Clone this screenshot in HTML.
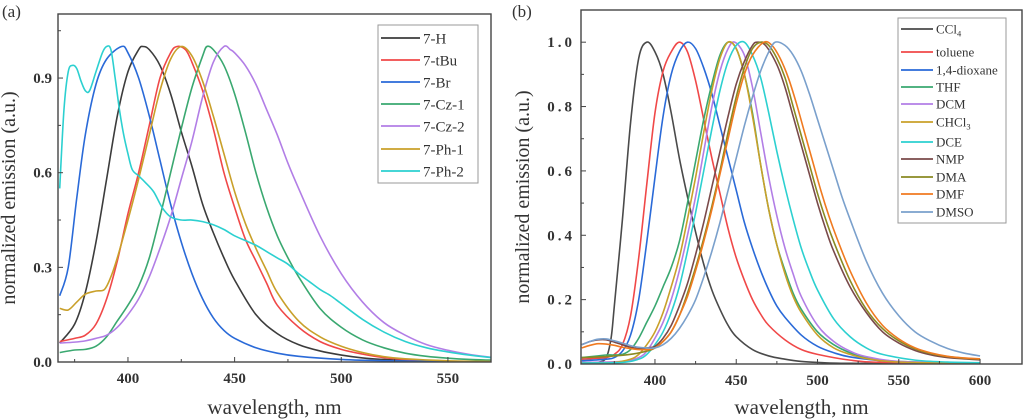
<!DOCTYPE html>
<html><head><meta charset="utf-8"><style>
html,body{margin:0;padding:0;background:#fff;}
svg{display:block;font-family:"Liberation Serif",serif;}
</style></head><body>
<svg id="chart" width="1024" height="419" viewBox="0 0 1024 419" xmlns="http://www.w3.org/2000/svg"></svg>
<script>
// ---------- Panel (a) data ----------
const aNames = ["7-H","7-tBu","7-Br","7-Cz-1","7-Cz-2","7-Ph-1","7-Ph-2"];
const aColors = ["#3c3c3c","#f04848","#2a6ad8","#3aa870","#b27ee6","#c9a02a","#2cd0d0"];
const aH_x = [368,375,380,385,390,395,400,405,407,410,415,420,425,430,435,440,445,450,460,470,480,490,500,510,520,530,550,570];
const aH_y = [.06,.12,.22,.38,.58,.78,.92,.99,1,.99,.94,.85,.73,.62,.5,.41,.33,.26,.15,.09,.055,.035,.022,.013,.008,.005,.002,.001];
const aTBu_x = [368,375,380,385,390,395,400,405,410,415,420,423,427,430,435,440,445,450,455,460,465,470,480,490,500,510,520,530,550,570];
const aTBu_y = [.065,.075,.085,.12,.2,.32,.47,.6,.75,.9,.98,1,.99,.95,.86,.74,.6,.49,.39,.32,.25,.18,.11,.065,.04,.025,.014,.008,.003,.001];
const aBr_x = [368,372,376,380,385,390,397,400,405,410,415,420,425,430,435,440,445,450,460,470,480,500,520,570];
const aBr_y = [.21,.3,.52,.72,.88,.96,1,.98,.9,.78,.64,.5,.38,.28,.2,.14,.1,.075,.045,.028,.018,.008,.004,.001];
const aCz1_x = [368,375,380,385,390,395,400,405,410,415,420,425,430,435,437,440,445,450,455,460,465,470,475,480,490,500,510,520,530,540,550,560,570];
const aCz1_y = [.03,.038,.04,.05,.08,.13,.18,.24,.33,.46,.6,.74,.87,.97,1,.99,.94,.85,.73,.6,.49,.4,.33,.27,.17,.11,.07,.045,.028,.018,.012,.008,.006];
const aCz2_x = [368,375,380,385,390,395,400,405,410,415,420,425,430,435,440,445,448,450,455,460,465,470,475,480,490,500,510,520,530,540,550,560,570];
const aCz2_y = [.06,.063,.067,.075,.085,.11,.15,.2,.27,.36,.46,.58,.7,.84,.95,1,.99,.98,.94,.88,.8,.72,.63,.55,.4,.28,.19,.125,.085,.055,.037,.024,.015];
const aPh1_x = [368,372,376,380,385,389,392,395,400,405,410,415,420,425,430,435,440,445,450,455,460,465,470,480,490,500,510,520,530,550,570];
const aPh1_y = [.17,.165,.19,.215,.225,.23,.27,.33,.45,.58,.72,.86,.96,1,.97,.89,.78,.66,.54,.44,.36,.29,.22,.13,.08,.05,.03,.017,.01,.004,.002];
const aPh2_x = [368,370,372,374,376,378,380,382,385,388,390,392,394,396,398,400,402,405,408,412,416,420,425,430,435,440,445,450,455,460,465,470,475,480,485,490,495,500,510,520,530,540,550,560,570];
const aPh2_y = [.55,.8,.92,.94,.93,.89,.86,.86,.92,.98,1,.99,.9,.8,.72,.66,.61,.59,.57,.54,.49,.46,.45,.45,.445,.435,.42,.4,.385,.37,.35,.33,.31,.28,.255,.23,.21,.185,.135,.095,.065,.045,.032,.022,.014];
const aXs = [aH_x,aTBu_x,aBr_x,aCz1_x,aCz2_x,aPh1_x,aPh2_x];
const aYs = [aH_y,aTBu_y,aBr_y,aCz1_y,aCz2_y,aPh1_y,aPh2_y];
const aXTicks = [400,450,500,550];
const aYTicks = [0,0.3,0.6,0.9];
const aYLabels = ["0.0","0.3","0.6","0.9"];

// ---------- Panel (b) data ----------
const bNames = ["CCl4","toluene","1,4-dioxane","THF","DCM","CHCl3","DCE","NMP","DMA","DMF","DMSO"];
const bColors = ["#4a4a4a","#f04848","#2a6ad8","#3aa870","#b27ee6","#c9a02a","#2cd0d0","#7a4a4a","#8a8a22","#f07a20","#7aa0cc"];
const bCCl4_x = [355,365,370,373,375,380,385,390,395,400,405,410,415,420,425,430,435,440,445,450,460,470,480,490,500,520,600];
const bCCl4_y = [0,.005,.02,.08,.18,.45,.75,.95,1,.97,.9,.78,.64,.52,.41,.31,.23,.17,.12,.085,.045,.025,.015,.008,.005,.002,0];
const bTol_x = [355,365,370,375,380,385,390,395,400,405,410,415,420,425,430,435,440,445,450,455,460,465,470,480,490,500,520,540,600];
const bTol_y = [.015,.018,.02,.03,.06,.15,.33,.56,.78,.91,.97,1,.97,.88,.76,.64,.53,.42,.33,.26,.2,.155,.12,.075,.045,.03,.012,.005,0];
const bDiox_x = [355,370,375,380,385,390,395,400,405,410,415,420,425,430,435,440,445,450,455,460,465,470,475,480,490,500,510,520,540,560,600];
const bDiox_y = [.01,.015,.02,.04,.09,.2,.38,.58,.77,.9,.97,1,.98,.92,.84,.74,.64,.54,.44,.36,.29,.23,.18,.145,.09,.055,.035,.022,.01,.004,.001];
const bTHF_x = [355,365,370,375,380,385,390,395,400,405,410,415,420,425,430,435,440,445,450,455,460,465,470,475,480,485,490,500,510,520,530,550,600];
const bTHF_y = [.02,.025,.028,.028,.03,.045,.08,.13,.18,.24,.3,.38,.5,.63,.76,.87,.96,1,.98,.9,.78,.62,.48,.37,.29,.22,.17,.1,.06,.035,.02,.008,.002];
const bDCM_x = [355,380,390,395,400,405,410,415,420,425,430,435,440,445,449,455,460,465,470,475,480,485,490,500,510,520,530,550,600];
const bDCM_y = [.005,.008,.02,.04,.08,.13,.2,.29,.4,.52,.66,.8,.91,.98,1,.96,.86,.72,.58,.46,.36,.28,.21,.12,.07,.04,.023,.008,.002];
const bCHCl3_x = [355,375,385,390,395,400,405,410,415,420,425,430,435,440,445,450,455,460,465,470,475,480,485,490,500,510,520,530,550,600];
const bCHCl3_y = [.003,.005,.015,.03,.06,.1,.16,.24,.33,.45,.58,.72,.85,.95,1,.98,.9,.77,.62,.48,.37,.28,.21,.16,.09,.05,.03,.017,.006,.001];
const bDCE_x = [355,380,390,395,400,405,410,415,420,425,430,435,440,445,450,455,460,465,470,475,480,485,490,495,500,510,520,530,540,560,580,600];
const bDCE_y = [.003,.005,.015,.03,.06,.1,.16,.24,.35,.47,.6,.73,.85,.94,.99,1,.96,.89,.78,.66,.55,.45,.36,.29,.23,.14,.085,.05,.03,.012,.006,.004];
const bNMP_x = [355,360,365,370,375,380,385,390,395,400,405,410,415,420,425,430,435,440,445,450,455,460,463,468,475,480,485,490,495,500,505,510,520,530,540,550,560,570,580,590,600];
const bNMP_y = [.06,.07,.075,.075,.068,.06,.052,.048,.05,.055,.08,.12,.18,.25,.34,.44,.55,.66,.77,.87,.94,.99,1,.99,.93,.86,.77,.68,.59,.5,.42,.35,.24,.16,.1,.065,.042,.028,.02,.016,.013];
const bDMA_x = [355,365,375,385,395,400,405,410,415,420,425,430,435,440,445,450,455,460,465,470,475,480,485,490,495,500,505,510,520,530,540,550,560,570,580,590,600];
const bDMA_y = [.02,.022,.025,.03,.04,.05,.07,.1,.15,.22,.3,.39,.49,.6,.72,.83,.92,.98,1,.99,.95,.89,.8,.71,.62,.53,.45,.38,.26,.17,.11,.072,.047,.032,.023,.018,.015];
const bDMF_x = [355,360,365,370,375,380,385,390,395,400,405,410,415,420,425,430,435,440,445,450,455,460,467,472,477,482,487,492,497,502,507,512,520,530,540,550,560,570,580,590,600];
const bDMF_y = [.05,.058,.063,.062,.058,.052,.048,.045,.045,.05,.07,.1,.15,.21,.29,.38,.48,.59,.7,.81,.9,.96,1,.99,.95,.89,.81,.72,.63,.54,.46,.39,.29,.19,.12,.078,.05,.034,.024,.019,.016];
const bDMSO_x = [355,360,365,370,375,380,385,390,395,400,405,410,415,420,425,430,435,440,445,450,455,460,465,470,474,480,485,490,495,500,505,510,515,520,530,540,550,560,570,580,590,600];
const bDMSO_y = [.06,.07,.077,.078,.072,.065,.057,.052,.05,.05,.06,.08,.11,.15,.2,.27,.35,.44,.54,.64,.74,.83,.91,.97,1,.99,.96,.91,.84,.76,.68,.6,.52,.45,.32,.22,.15,.1,.07,.048,.034,.025];
const bXs = [bCCl4_x,bTol_x,bDiox_x,bTHF_x,bDCM_x,bCHCl3_x,bDCE_x,bNMP_x,bDMA_x,bDMF_x,bDMSO_x];
const bYs = [bCCl4_y,bTol_y,bDiox_y,bTHF_y,bDCM_y,bCHCl3_y,bDCE_y,bNMP_y,bDMA_y,bDMF_y,bDMSO_y];
const bXTicks = [400,450,500,550,600];
const bYTicks = [0,0.2,0.4,0.6,0.8,1.0];
const bYLabels = ["0.0","0.2","0.4","0.6","0.8","1.0"];

const NS = "http://www.w3.org/2000/svg";
const svg = document.getElementById("chart");
function mk(tag, attrs, parent, txt){
  const e = document.createElementNS(NS, tag);
  for (const k in attrs) e.setAttribute(k, attrs[k]);
  if (txt !== undefined) e.textContent = txt;
  (parent||svg).appendChild(e);
  return e;
}
function smoothPath(pts){
  let d = "M" + pts[0][0].toFixed(2) + "," + pts[0][1].toFixed(2);
  for (let i=0;i<pts.length-1;i++){
    const p0 = pts[i-1]||pts[i], p1=pts[i], p2=pts[i+1], p3=pts[i+2]||p2;
    const c1x = p1[0]+(p2[0]-p0[0])/6, c1y = p1[1]+(p2[1]-p0[1])/6;
    const c2x = p2[0]-(p3[0]-p1[0])/6, c2y = p2[1]-(p3[1]-p1[1])/6;
    d += " C"+c1x.toFixed(2)+","+c1y.toFixed(2)+" "+c2x.toFixed(2)+","+c2y.toFixed(2)+" "+p2[0].toFixed(2)+","+p2[1].toFixed(2);
  }
  return d;
}
function panel(cfg){
  const g = mk("g", {});
  
  
  const X = v => cfg.L + (v-cfg.x0)/(cfg.x1-cfg.x0)*(cfg.R-cfg.L);
  const Y = v => cfg.B - (v-cfg.y0)/(cfg.y1-cfg.y0)*(cfg.B-cfg.T);
  const clipId = cfg.name + "-clip";
  const cp = mk("clipPath", {id: clipId}, g);
  mk("rect", {x:cfg.L, y:cfg.T, width:cfg.R-cfg.L, height:cfg.B-cfg.T}, cp);
  const sg = mk("g", {"clip-path":"url(#"+clipId+")"}, g);
  cfg.xs.forEach((xa,i)=>{
    const ya = cfg.ys[i];
    const pts = xa.map((x,j)=>[X(x),Y(ya[j])]);
    const p = mk("path", {d: smoothPath(pts), fill:"none", stroke:cfg.colors[i], "stroke-width":1.6, "stroke-linejoin":"round"}, sg);
    
    
  });
  const fr = mk("rect", {x:cfg.L, y:cfg.T, width:cfg.R-cfg.L, height:cfg.B-cfg.T, fill:"none", stroke:"#444", "stroke-width":1.4}, g);
  
  
  cfg.xTicks.forEach(v=>{
    mk("line", {x1:X(v), x2:X(v), y1:cfg.B, y2:cfg.B-5, stroke:"#444", "stroke-width":1}, g);
    const t = mk("text", {x:X(v), y:cfg.B+21, "text-anchor":"middle", "font-size":15, "font-weight":"bold", fill:"#333"}, g, String(v));
    
    
  });
  cfg.xMinor.forEach(v=>{
    mk("line", {x1:X(v), x2:X(v), y1:cfg.B, y2:cfg.B-3, stroke:"#444", "stroke-width":1}, g);
  });
  cfg.yTicks.forEach((v,i)=>{
    mk("line", {x1:cfg.L, x2:cfg.L+5, y1:Y(v), y2:Y(v), stroke:"#444", "stroke-width":1}, g);
    const t = mk("text", {x:cfg.L-6, y:Y(v)+5, "text-anchor":"end", "font-size":15, "font-weight":"bold", fill:"#333", "letter-spacing":cfg.ls}, g, cfg.yLabels[i]);
    
    
  });
  cfg.yMinor.forEach(v=>{
    mk("line", {x1:cfg.L, x2:cfg.L+3, y1:Y(v), y2:Y(v), stroke:"#444", "stroke-width":1}, g);
  });
  const xt = mk("text", {x:(cfg.L+cfg.R)/2, y:414, "text-anchor":"middle", "font-size":21, fill:"#333"}, g, "wavelength, nm");
  
  
  const yt = mk("text", {x:0, y:0, "text-anchor":"middle", "font-size":20, fill:"#333", transform:"translate("+cfg.yTitleX+","+((cfg.T+cfg.B)/2+10)+") rotate(-90)"}, g, "normalized emission (a.u.)");
  
  
  const pl = mk("text", {x:cfg.labelX, y:17, "font-size":17, fill:"#333"}, g, cfg.label);
  
  
  const lg = mk("g", {}, g);
  
  
  const Lg = cfg.legend;
  mk("rect", {x:Lg.x, y:Lg.y, width:Lg.w, height:Lg.h, fill:"#fff", stroke:"#999", "stroke-width":1}, lg);
  cfg.names.forEach((n,i)=>{
    const yy = Lg.rows[i];
    const e = mk("g", {}, lg);
    
    
    mk("line", {x1:Lg.x+3, x2:Lg.x+Lg.line, y1:yy, y2:yy, stroke:cfg.colors[i], "stroke-width":1.8}, e);
    const t = mk("text", {x:Lg.x+Lg.line+3, y:yy+Lg.fs*0.35, "font-size":Lg.fs, fill:"#333"}, e);
    const m = n.match(/^(.*?)(\d)$/);
    if (cfg.sub && m && /Cl/.test(n)) {
      t.appendChild(document.createTextNode(m[1]));
      mk("tspan", {"font-size":Lg.fs*0.65, dy:3}, t, m[2]);
    } else t.textContent = n;
  });
}
panel({name:"panel-a", label:"(a)", labelX:2, L:58, R:491, T:14, B:362, x0:367.2, x1:570.2, y0:0, y1:1.103,
  xs:aXs, ys:aYs, names:aNames, colors:aColors, xTicks:aXTicks, xMinor:[375,425,475,525],
  yTicks:aYTicks, yLabels:aYLabels, yMinor:[0.15,0.45,0.75,1.05], ls:0, yTitleX:15, sub:false,
  legend:{x:378, y:25, w:100, h:158, line:42, fs:15, rows:[38,60,82,104,126,149,171]}});
panel({name:"panel-b", label:"(b)", labelX:512, L:581, R:1022, T:10, B:364, x0:354.5, x1:625.8, y0:0, y1:1.1,
  xs:bXs, ys:bYs, names:bNames, colors:bColors, xTicks:bXTicks, xMinor:[375,425,475,525,575],
  yTicks:bYTicks, yLabels:bYLabels, yMinor:[0.1,0.3,0.5,0.7,0.9], ls:3, yTitleX:529, sub:true,
  legend:{x:898, y:18, w:108, h:205, line:35, fs:13, rows:[29,52,70,87,104,122,142,159,177,194,212]}});
</script>
</body></html>
